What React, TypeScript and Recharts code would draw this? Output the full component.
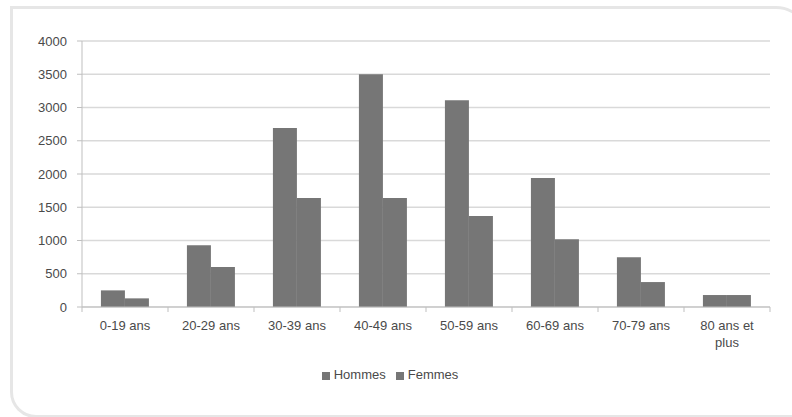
import { BarChart, Bar, XAxis, YAxis, CartesianGrid, Legend } from "recharts";

const AGE_GROUPS = ["0-19 ans", "20-29 ans", "30-39 ans", "40-49 ans", "50-59 ans", "60-69 ans", "70-79 ans", "80 ans et plus"];
const HOMMES = [250, 930, 2690, 3500, 3110, 1940, 750, 180];
const FEMMES = [130, 600, 1640, 1640, 1370, 1020, 375, 180];
const Y_TICKS = [0, 500, 1000, 1500, 2000, 2500, 3000, 3500, 4000];
const SERIES_ORDER = ["hommes", "femmes"];

const data = AGE_GROUPS.map((name, i) => ({ name, hommes: HOMMES[i], femmes: FEMMES[i] }));

const FONT = "'Liberation Sans', Arial, sans-serif";
const BAR = "#767676";
const TEXT = "#4a4a4a";

// split long labels on word boundaries, like Excel does
function wrap(label: string, max = 10) {
  const words = label.split(" ");
  const lines: string[] = [];
  let cur = "";
  words.forEach((w) => {
    const next = cur ? cur + " " + w : w;
    if (next.length > max && cur) {
      lines.push(cur);
      cur = w;
    } else cur = next;
  });
  if (cur) lines.push(cur);
  return lines;
}

const AgeTick = (props: any) => {
  const { x, y, payload, index, visibleTicksCount } = props;
  const half = payload.offset || 43;
  const lines = wrap(String(payload.value));
  const axisY = y - 11;
  return (
    <g>
      <line x1={x - half} x2={x - half} y1={axisY} y2={axisY + 5} stroke="#bfbfbf" />
      {index === visibleTicksCount - 1 && (
        <line x1={x + half} x2={x + half} y1={axisY} y2={axisY + 5} stroke="#bfbfbf" />
      )}
      <text x={x} y={y} textAnchor="middle" fill={TEXT} fontSize={13} fontFamily={FONT}>
        {lines.map((l, i) => (
          <tspan key={i} x={x} dy={i === 0 ? 12 : 17}>{l}</tspan>
        ))}
      </text>
    </g>
  );
};

export default function App() {
  return (
    <div style={{ position: "absolute", left: 0, top: 0, width: 792, height: 417, background: "#fff", overflow: "hidden", fontFamily: FONT }}>
      <div
        style={{
          position: "absolute",
          left: 10,
          top: 6,
          width: 800,
          height: 412,
          border: "3px solid #e6e6e6",
          borderRadius: "0 34px 0 26px",
          boxSizing: "border-box",
        }}
      />
      <BarChart
        width={792}
        height={417}
        data={data}
        margin={{ top: 41, right: 22, bottom: 33, left: 20 }}
        barCategoryGap="22%"
        barGap={0}
        style={{ position: "absolute", left: 0, top: 0 }}
      >
        <CartesianGrid vertical={false} stroke="#d9d9d9" strokeWidth={1.5} />
        <XAxis
          dataKey="name"
          interval={0}
          height={59}
          tickLine={false}
          tickSize={5}
          tickMargin={6}
          axisLine={{ stroke: "#bfbfbf" }}
          tick={<AgeTick />}
        />
        <YAxis
          width={62}
          domain={[0, 4000]}
          ticks={Y_TICKS}
          interval={0}
          tickSize={5}
          tickMargin={10}
          axisLine={{ stroke: "#bfbfbf" }}
          tickLine={{ stroke: "#bfbfbf" }}
          tick={{ fill: TEXT, fontSize: 13, fontFamily: FONT }}
        />
        <Legend
          verticalAlign="bottom"
          align="center"
          iconType="square"
          iconSize={8}
          itemSorter={(item: any) => SERIES_ORDER.indexOf(String(item.dataKey))}
          wrapperStyle={{ fontSize: 13, fontFamily: FONT, lineHeight: "18px" }}
          formatter={(v: string) => <span style={{ color: TEXT }}>{v}</span>}
        />
        <Bar dataKey="hommes" name="Hommes" fill={BAR} isAnimationActive={false} />
        <Bar dataKey="femmes" name="Femmes" fill={BAR} isAnimationActive={false} />
      </BarChart>
    </div>
  );
}
